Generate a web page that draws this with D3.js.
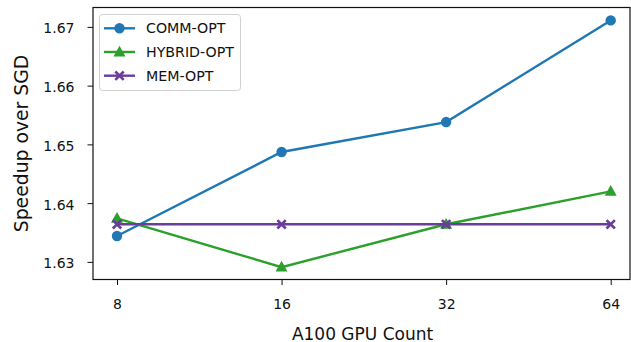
<!DOCTYPE html>
<html>
<head>
<meta charset="utf-8">
<script src="https://cdn.jsdelivr.net/npm/d3@7"></script>
<style>
  html, body { margin: 0; padding: 0; background: #fff; }
  svg { display: block; font-family: "DejaVu Sans", sans-serif; }
</style>
</head>
<body>
<svg id="chart" width="631" height="342"></svg>
<script>
// GPU counts on the x axis
const gpuCounts = [8, 16, 32, 64];

// Speedup over SGD for each optimizer variant
const commOpt   = [1.6344, 1.6487, 1.6538, 1.6711];
const hybridOpt = [1.6374, 1.6291, 1.6364, 1.6420];
const memOpt    = [1.6364, 1.6364, 1.6364, 1.6364];

const yTicks = [1.63, 1.64, 1.65, 1.66, 1.67];

const series = [
  { name: "COMM-OPT",   values: commOpt,   color: "#1f77b4", marker: "circle" },
  { name: "HYBRID-OPT", values: hybridOpt, color: "#2ca02c", marker: "triangle" },
  { name: "MEM-OPT",    values: memOpt,    color: "#6a3d9a", marker: "cross" }
];

const svg = d3.select("#chart");
const margin = { left: 93, right: 1, top: 7.5, bottom: 62.5 };
const W = 631, H = 342;

const x = d3.scalePoint()
  .domain(gpuCounts)
  .range([117, 610.7]);

const y = d3.scaleLinear()
  .domain([1.6270, 1.6733])
  .range([H - margin.bottom, margin.top]);

// axes
const xAxis = svg.append("g")
  .attr("transform", `translate(0,${H - margin.bottom})`)
  .call(d3.axisBottom(x).tickSize(5.5).tickPadding(14).tickFormat(d => String(d)));
const yAxis = svg.append("g")
  .attr("transform", `translate(${margin.left},0)`)
  .call(d3.axisLeft(y).tickValues(yTicks).tickSize(5.5).tickPadding(13).tickFormat(d3.format(".2f")));

[xAxis, yAxis].forEach(g => {
  g.select(".domain").remove();
  g.attr("font-size", null).attr("font-family", null);
  g.selectAll("text").style("font-size", "14px").style("font-family", "'DejaVu Sans'").attr("fill", "#111");
  g.selectAll("line").attr("stroke", "#111").attr("stroke-width", 1);
});
yAxis.selectAll("text").attr("dy", "0.42em");

// plot frame
svg.append("rect")
  .attr("x", margin.left).attr("y", margin.top)
  .attr("width", W - margin.right - margin.left)
  .attr("height", H - margin.bottom - margin.top)
  .attr("fill", "none").attr("stroke", "#111").attr("stroke-width", 1.2);

const line = d3.line()
  .x((d, i) => x(gpuCounts[i]))
  .y(d => y(d));

function drawMarker(g, type, cx, cy, color, s) {
  if (type === "circle") {
    g.append("circle").attr("cx", cx).attr("cy", cy).attr("r", 5.2 * s).attr("fill", color);
  } else if (type === "triangle") {
    const r = 6.3 * s;
    g.append("path")
      .attr("d", `M${cx},${cy - r} L${cx + r * 0.95},${cy + r * 0.7} L${cx - r * 0.95},${cy + r * 0.7} Z`)
      .attr("fill", color);
  } else {
    const r = 4.2 * s;
    g.append("path")
      .attr("d", `M${cx - r},${cy - r} L${cx + r},${cy + r} M${cx - r},${cy + r} L${cx + r},${cy - r}`)
      .attr("stroke", color).attr("stroke-width", 2.6).attr("stroke-linecap", "butt");
  }
}

series.forEach(s => {
  const g = svg.append("g");
  g.append("path")
    .datum(s.values)
    .attr("d", line)
    .attr("fill", "none")
    .attr("stroke", s.color)
    .attr("stroke-width", 2.4);
  s.values.forEach((v, i) => drawMarker(g, s.marker, x(gpuCounts[i]), y(v), s.color, 1));
});

// axis titles
svg.append("text")
  .attr("x", (margin.left + W - margin.right) / 2 + 1)
  .attr("y", 339.5)
  .attr("text-anchor", "middle")
  .attr("font-size", 17)
  .attr("fill", "#111")
  .text("A100 GPU Count");

svg.append("text")
  .attr("transform", `translate(27.5,${(margin.top + H - margin.bottom) / 2}) rotate(-90)`)
  .attr("text-anchor", "middle")
  .attr("font-size", 18.8)
  .attr("fill", "#111")
  .text("Speedup over SGD");

// legend
const legend = svg.append("g");
legend.append("rect")
  .attr("x", 99.5).attr("y", 14.5).attr("width", 141).attr("height", 76)
  .attr("rx", 3).attr("fill", "#fff").attr("fill-opacity", 0.8)
  .attr("stroke", "#d0d0d0").attr("stroke-width", 1);

series.forEach((s, i) => {
  const cy = 28.3 + i * 23.7;
  legend.append("line")
    .attr("x1", 104).attr("x2", 135).attr("y1", cy).attr("y2", cy)
    .attr("stroke", s.color).attr("stroke-width", 2.4);
  drawMarker(legend, s.marker, 119.5, cy, s.color, 1);
  legend.append("text")
    .attr("x", 146).attr("y", cy + 5)
    .attr("font-size", 14.2)
    .attr("fill", "#111")
    .text(s.name);
});
</script>
</body>
</html>
